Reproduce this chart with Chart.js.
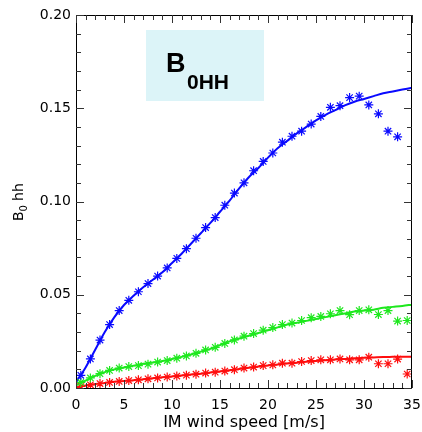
<!DOCTYPE html>
<html>
<head>
<meta charset="utf-8">
<script src="https://cdn.jsdelivr.net/npm/chart.js@4.4.1/dist/chart.umd.min.js"></script>
<style>
  html, body { margin: 0; padding: 0; background: #fff; }
  #wrap { width: 422px; height: 432px; }
</style>
</head>
<body>
<div id="wrap"><canvas id="chart" width="422" height="432"></canvas></div>
<script>
// measured points (bin centres, m/s)
const pointX = [0.5, 1.5, 2.5, 3.5, 4.5, 5.5, 6.5, 7.5, 8.5, 9.5, 10.5, 11.5, 12.5, 13.5, 14.5, 15.5, 16.5, 17.5,
  18.5, 19.5, 20.5, 21.5, 22.5, 23.5, 24.5, 25.5, 26.5, 27.5, 28.5, 29.5, 30.5, 31.5, 32.5, 33.5, 34.5];

const blueY = [0.0068, 0.0156, 0.0257, 0.034, 0.0415, 0.047, 0.0516, 0.056, 0.060, 0.0644, 0.0695, 0.0747,
  0.0803, 0.086, 0.0914, 0.098, 0.1045, 0.110, 0.1165, 0.1215, 0.126, 0.1318, 0.135, 0.1377, 0.1415,
  0.1456, 0.1505, 0.1514, 0.1557, 0.1565, 0.1518, 0.147, 0.1377, 0.1347];

const greenY = [0.003, 0.0054, 0.0077, 0.0094, 0.0107, 0.0115, 0.012, 0.0128, 0.0139, 0.0147, 0.016, 0.0172,
  0.0186, 0.0204, 0.0218, 0.0239, 0.0258, 0.0278, 0.0292, 0.031, 0.0324, 0.034, 0.0348, 0.0362, 0.0377,
  0.0384, 0.0398, 0.0415, 0.0393, 0.0415, 0.0419, 0.0394, 0.0415, 0.0359, 0.0362];

const redY = [0.0008, 0.0017, 0.0024, 0.003, 0.0035, 0.004, 0.0044, 0.0049, 0.0054, 0.0059, 0.0064, 0.0069,
  0.0074, 0.008, 0.0085, 0.0091, 0.0098, 0.0107, 0.0112, 0.012, 0.0124, 0.0133, 0.0133, 0.0142, 0.0147,
  0.0151, 0.0151, 0.0156, 0.0151, 0.0151, 0.0165, 0.013, 0.013, 0.0155, 0.0075];

// fitted curves
const fitX = [0, 1, 2, 3, 4, 5, 6, 7, 8, 9, 10, 11, 12, 13, 14, 15, 16, 17, 18, 19, 20, 21, 22, 23, 24, 25,
  26, 27, 28, 29, 30, 31, 32, 33, 34, 35];

const blueFit = [0.003, 0.011, 0.0205, 0.030, 0.038, 0.0445, 0.0495, 0.054, 0.058, 0.062, 0.067, 0.072,
  0.0775, 0.083, 0.0885, 0.0945, 0.1005, 0.107, 0.113, 0.118, 0.1235, 0.1285, 0.1325, 0.1365, 0.140,
  0.1435, 0.1465, 0.149, 0.1515, 0.1535, 0.155, 0.1565, 0.158, 0.159, 0.160, 0.161];

const greenFit = [0.0015, 0.004, 0.0065, 0.0085, 0.010, 0.011, 0.012, 0.013, 0.0137, 0.0145, 0.0155, 0.0167,
  0.018, 0.0195, 0.021, 0.023, 0.025, 0.0265, 0.028, 0.0295, 0.031, 0.0325, 0.034, 0.035, 0.036, 0.037,
  0.038, 0.039, 0.040, 0.041, 0.0415, 0.042, 0.043, 0.0435, 0.044, 0.0447];

const redFit = [0.0003, 0.0013, 0.0021, 0.0027, 0.0033, 0.0038, 0.0042, 0.0047, 0.0052, 0.0057, 0.0062,
  0.0067, 0.0072, 0.0077, 0.0083, 0.0089, 0.0095, 0.0102, 0.0109, 0.0115, 0.0121, 0.0126, 0.0131, 0.0136,
  0.0141, 0.0145, 0.0149, 0.0153, 0.0156, 0.0159, 0.0162, 0.0164, 0.0166, 0.0167, 0.0168, 0.0168];

const BLUE = '#0a0aff';
const GREEN = '#1ee81e';
const RED = '#ff0d0d';

const toXY = (xs, ys) => ys.map((y, i) => ({ x: xs[i], y: y }));

const pointSet = (ys, color) => ({
  data: toXY(pointX, ys),
  showLine: false,
  pointStyle: 'star',
  pointRadius: 4.5,
  borderColor: color,
  borderWidth: 1.2,
});

const fitSet = (ys, color) => ({
  data: toXY(fitX, ys),
  showLine: true,
  pointRadius: 0,
  borderColor: color,
  borderWidth: 2,
  cubicInterpolationMode: 'monotone',
});

// frame with inward ticks on all four sides, plus the label box and y title
const framePlugin = {
  id: 'frame',
  afterDatasetsDraw(chart) {
    const { ctx, chartArea: a, scales } = chart;
    ctx.save();
    ctx.strokeStyle = '#000';
    ctx.lineWidth = 1;
    ctx.strokeRect(a.left + 0.5, a.top + 0.5, a.right - a.left - 1, a.bottom - a.top);

    ctx.strokeStyle = '#333';
    ctx.beginPath();
    for (let v = 0; v <= 35; v++) {
      const px = Math.round(scales.x.getPixelForValue(v)) + 0.5;
      const len = v % 5 === 0 ? 8 : 5;
      ctx.moveTo(px, a.bottom); ctx.lineTo(px, a.bottom - len);
      ctx.moveTo(px, a.top); ctx.lineTo(px, a.top + len);
    }
    for (let i = 0; i <= 20; i++) {
      const py = Math.round(scales.y.getPixelForValue(i / 100)) + 0.5;
      const len = i % 5 === 0 ? 8 : 5;
      ctx.moveTo(a.left, py); ctx.lineTo(a.left + len, py);
      ctx.moveTo(a.right, py); ctx.lineTo(a.right - len, py);
    }
    ctx.stroke();

    // label box
    ctx.fillStyle = '#dcf4f8';
    ctx.fillRect(146, 30, 118, 71);
    ctx.fillStyle = '#000';
    ctx.textBaseline = 'alphabetic';
    ctx.textAlign = 'left';
    ctx.font = 'bold 27px "Liberation Sans", Arial, sans-serif';
    ctx.fillText('B', 166, 72);
    ctx.font = 'bold 21px "Liberation Sans", Arial, sans-serif';
    ctx.fillText('0HH', 187, 89);

    // y axis title
    ctx.translate(23, 221);
    ctx.rotate(-Math.PI / 2);
    ctx.font = '14px "DejaVu Sans", sans-serif';
    ctx.fillText('B', 0, 0);
    const bw = ctx.measureText('B').width;
    ctx.font = '10px "DejaVu Sans", sans-serif';
    ctx.fillText('0', bw, 4);
    ctx.font = '14px "DejaVu Sans", sans-serif';
    ctx.fillText(' hh', bw + 6, 0);
    ctx.restore();
  },
};

new Chart(document.getElementById('chart'), {
  type: 'scatter',
  data: {
    datasets: [
      pointSet(blueY, BLUE),
      pointSet(greenY, GREEN),
      pointSet(redY, RED),
      fitSet(blueFit, BLUE),
      fitSet(greenFit, GREEN),
      fitSet(redFit, RED),
    ],
  },
  options: {
    responsive: false,
    animation: false,
    layout: { padding: { top: 15, right: 10, left: 0, bottom: 0 } },
    plugins: {
      legend: { display: false },
      tooltip: { enabled: false },
    },
    scales: {
      x: {
        type: 'linear',
        min: 0,
        max: 35,
        grid: { display: false, drawTicks: false },
        border: { display: false },
        ticks: {
          stepSize: 5,
          color: '#000',
          font: { family: '"DejaVu Sans", sans-serif', size: 14 },
          padding: 9,
          maxRotation: 0,
        },
        title: {
          display: true,
          text: 'IM wind speed [m/s]',
          color: '#000',
          font: { family: '"DejaVu Sans", sans-serif', size: 16 },
          padding: { top: 0, bottom: 0 },
        },
        afterFit: (scale) => {
          scale.height = 44;
          scale.paddingLeft = 0;
          scale.paddingRight = 0;
        },
      },
      y: {
        min: 0,
        max: 0.2,
        grid: { display: false, drawTicks: false },
        border: { display: false },
        ticks: {
          stepSize: 0.05,
          color: '#000',
          font: { family: '"DejaVu Sans", sans-serif', size: 14 },
          padding: 5,
          callback: (value) => value.toFixed(2),
        },
        afterFit: (scale) => {
          scale.width = 76;
          scale.paddingTop = 0;
          scale.paddingBottom = 0;
        },
      },
    },
  },
  plugins: [framePlugin],
});
</script>
</body>
</html>
